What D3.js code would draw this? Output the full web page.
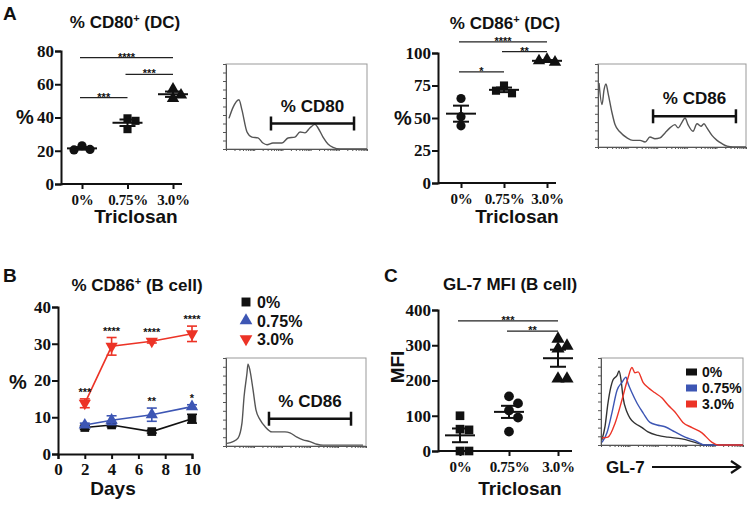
<!DOCTYPE html>
<html>
<head>
<meta charset="utf-8">
<script src="https://cdn.jsdelivr.net/npm/d3@7"></script>
<style>
  body { margin: 0; background: #fff; }
  text { font-family: "Liberation Sans", Arial, sans-serif; font-weight: bold; fill: #111; }
</style>
</head>
<body>
<script>
// ---- data ----
const treat = ["0%", "0.75%", "3.0%"];

// A: % CD80+ and % CD86+ of DC
const cd80Dc = [[23, 20.8, 20.5], [39.5, 38, 33], [57, 53.5, 51.5]];
const cd86Dc = [[65, 51, 44], [75, 69, 71], [95, 93, 94]];
// C: GL-7 MFI of B cells
const gl7Mfi = [[100, 62, 60, 0, 0], [155, 135, 115, 95, 55], [318, 298, 290, 205, 205]];

// significance bars: [from group, to group, height (data units), stars]
const sigCd80 = [[0, 2, 76, "****"], [1, 2, 66, "***"], [0, 1, 52, "***"]];
const sigCd86 = [[0, 2, 108.5, "****"], [1, 2, 101, "**"], [0, 1, 85.5, "*"]];
const sigGl7 = [[0, 2, 369, "***"], [1, 2, 340, "**"]];

// B: % CD86+ of B cells over time
const days = [2, 4, 7, 10];
const bMean = [[7.2, 7.9, 6.1, 9.6], [7.9, 9.2, 10.7, 12.9], [13.8, 29.3, 30.7, 32.7]];
const bSem = [[0.5, 0.5, 0.4, 1.2], [0.5, 1.2, 1.8, 0.5], [1.2, 2.4, 0.5, 2.1]];
const bStars = [["", "", "", ""], ["", "", "**", "*"], ["***", "****", "****", "****"]];

// flow histograms: channel (0-1000) and count (% of max)
const histCd80Ch = [21, 50, 92, 113, 149, 184, 227, 262, 291, 333, 397, 440, 489, 525, 560, 596, 631, 652, 688, 723, 759, 809, 1000];
const histCd80N = [36, 49, 58, 46, 20, 14, 13, 7, 5, 7, 7, 13, 14, 20, 19, 25, 29, 25, 14, 6, 2, 0, 0];
const histCd86Ch = [7, 27, 41, 54, 68, 95, 115, 149, 196, 236, 284, 318, 351, 385, 419, 453, 486, 520, 541, 568, 588, 608, 642, 669, 696, 716, 736, 770, 804, 838, 872, 912, 1000];
const histCd86N = [77, 51, 69, 76, 65, 41, 27, 18, 11, 8, 8, 6, 12, 10, 11, 17, 23, 27, 23, 30, 35, 27, 19, 28, 25, 28, 23, 14, 8, 4, 1, 0, 0];
const histBCh = [7, 50, 86, 114, 129, 150, 157, 171, 193, 214, 243, 279, 329, 386, 421, 457, 507, 550, 600, 650, 693, 979];
const histBN = [3, 5, 9, 26, 56, 83, 93, 86, 64, 41, 30, 22, 16, 16, 16, 15, 10, 7, 5, 2, 1, 1];
const gl7Ch0 = [7, 28, 49, 70, 85, 113, 127, 141, 155, 183, 204, 239, 289, 331, 401, 472, 570, 662, 732, 1000];
const gl7N0 = [6, 21, 48, 67, 75, 80, 85, 75, 55, 38, 31, 25, 20, 15, 11, 9, 7, 3, 0, 0];
const gl7Ch075 = [7, 42, 77, 113, 148, 176, 190, 218, 254, 296, 345, 394, 451, 521, 592, 662, 732, 1000];
const gl7N075 = [3, 14, 37, 63, 72, 78, 71, 60, 48, 37, 26, 23, 21, 15, 9, 5, 0, 0];
const gl7Ch3 = [7, 49, 99, 148, 190, 218, 239, 261, 296, 331, 380, 430, 472, 521, 577, 641, 711, 782, 824, 1000];
const gl7N3 = [8, 9, 25, 52, 77, 89, 83, 84, 72, 66, 60, 54, 46, 38, 26, 20, 14, 3, 0, 0];

const colors = ["#111111", "#3d56b4", "#ec3326"];
const shapes = [d3.symbolSquare, d3.symbolTriangle, d3.symbolTriangle];
const serif = "'Liberation Serif', 'Times New Roman', serif";

const svg = d3.select("body").append("svg")
  .attr("width", 752).attr("height", 505);

function panelLetter(s, x, y) {
  svg.append("text").attr("x", x).attr("y", y).style("font-size", "19px").text(s);
}

function title(main, sup, rest, cx, y) {
  const t = svg.append("text").attr("x", cx).attr("y", y)
    .attr("text-anchor", "middle").style("font-size", "17px");
  t.append("tspan").text(main);
  if (sup) t.append("tspan").attr("dy", -6).style("font-size", "11px").text(sup);
  t.append("tspan").attr("dy", sup ? 6 : 0).text(rest);
}

function styleAxis(g, size) {
  g.selectAll("path.domain").attr("stroke", "#111").attr("stroke-width", 2);
  g.selectAll(".tick line").attr("stroke", "#111").attr("stroke-width", 2);
  g.selectAll(".tick text").style("font-size", size + "px")
    .attr("fill", "#222").style("font-family", serif);
}

// dot plot with mean +/- SEM
function dotPanel(o) {
  const g = svg.append("g");
  const y = d3.scaleLinear().domain([0, o.ymax]).range(o.yRange);
  const x = d3.scalePoint().domain(treat).range(o.catRange);

  const ya = g.append("g").attr("transform", `translate(${o.ax},0)`)
    .call(d3.axisLeft(y).tickValues(o.ticks).tickSize(6).tickPadding(1));
  styleAxis(ya, 17);

  const xa = g.append("g").attr("transform", `translate(0,${o.yRange[0]})`)
    .call(d3.axisBottom(x).tickSize(5).tickPadding(5));
  styleAxis(xa, 15);
  xa.selectAll(".tick text").style("letter-spacing", "-0.3px");
  xa.select("path.domain").remove();
  xa.append("line").attr("x1", o.ax).attr("x2", o.xEnd)
    .attr("stroke", "#111").attr("stroke-width", 2);

  // points, dodged sideways so that they do not overlap
  const sz = o.markSize;
  o.data.forEach((vals, gi) => {
    const cx = x(treat[gi]);
    const placed = [];
    vals.forEach(v => {
      const py = y(v);
      const cand = [0, sz, -sz, 2 * sz, -2 * sz, 3 * sz];
      let dx = 0;
      for (const c of cand) {
        if (placed.every(p => Math.hypot(p[0] - c, p[1] - py) >= sz)) { dx = c; break; }
      }
      placed.push([dx, py]);
      g.append("path")
        .attr("d", d3.symbol().type(o.shapes[gi]).size(o.symArea)())
        .attr("transform", `translate(${cx + dx},${py})`)
        .attr("fill", "#111");
    });
    const m = d3.mean(vals);
    const se = d3.deviation(vals) / Math.sqrt(vals.length);
    const lw = 2;
    g.append("line").attr("x1", cx - 15).attr("x2", cx + 15)
      .attr("y1", y(m)).attr("y2", y(m)).attr("stroke", "#111").attr("stroke-width", lw);
    g.append("line").attr("x1", cx).attr("x2", cx)
      .attr("y1", y(m - se)).attr("y2", y(m + se)).attr("stroke", "#111").attr("stroke-width", lw);
    [m - se, m + se].forEach(v => g.append("line")
      .attr("x1", cx - 8).attr("x2", cx + 8).attr("y1", y(v)).attr("y2", y(v))
      .attr("stroke", "#111").attr("stroke-width", lw));
  });

  o.sig.forEach(s => {
    const x1 = x(treat[s[0]]) - 2, x2 = x(treat[s[1]]);
    g.append("line").attr("x1", x1).attr("x2", x2).attr("y1", y(s[2])).attr("y2", y(s[2]))
      .attr("stroke", "#222").attr("stroke-width", 1.3);
    g.append("text").attr("x", (x1 + x2) / 2).attr("y", y(s[2]) + 3)
      .attr("text-anchor", "middle").style("font-size", "11px").text(s[3]);
  });

  // axis titles
  if (o.ylab === "MFI") {
    g.append("text").attr("transform", `translate(${o.ylabX},${o.ylabY}) rotate(-90)`)
      .attr("text-anchor", "middle").style("font-size", "19px").text("MFI");
  } else {
    g.append("text").attr("x", o.ylabX).attr("y", o.ylabY)
      .attr("text-anchor", "middle").style("font-size", "20px").text(o.ylab);
  }
  g.append("text").attr("x", o.xlabX).attr("y", o.xlabY)
    .attr("text-anchor", "middle").style("font-size", "19px").text("Triclosan");
}

// flow cytometry histogram
function histPanel(o) {
  const g = svg.append("g");
  const x = d3.scaleLinear().domain([0, 1000]).range([o.x0, o.x1]);
  const y = d3.scaleLinear().domain([0, 100]).range([o.y1, o.y0]);
  const xl = d3.scaleLog().domain([1, 1e5]).range([o.x0, o.x1]);

  g.append("rect").attr("x", o.x0).attr("y", o.y0)
    .attr("width", o.x1 - o.x0).attr("height", o.y1 - o.y0)
    .attr("fill", "none").attr("stroke", "#999").attr("stroke-width", 1);
  const la = g.append("g").attr("transform", `translate(${o.x0},0)`)
    .call(d3.axisLeft(y).ticks(10).tickSize(3).tickFormat(""));
  la.selectAll("path,line").attr("stroke", "#555").attr("stroke-width", 1);
  const ba = g.append("g").attr("transform", `translate(0,${o.y1})`)
    .call(d3.axisBottom(xl).tickSize(2).tickFormat(""));
  ba.selectAll("path,line").attr("stroke", "#555").attr("stroke-width", 1);

  const line = d3.line().x(d => x(d[0])).y(d => y(d[1])).curve(d3.curveMonotoneX);
  o.curves.forEach(c => {
    g.append("path").datum(d3.zip(c.ch, c.n))
      .attr("d", line).attr("fill", "none")
      .attr("stroke", c.color).attr("stroke-width", 1.4);
  });

  if (o.gate) {
    const [gx1, gx2, gy] = o.gate;
    g.append("line").attr("x1", x(gx1)).attr("x2", x(gx2)).attr("y1", y(gy)).attr("y2", y(gy))
      .attr("stroke", "#111").attr("stroke-width", 2.5);
    [gx1, gx2].forEach(v => g.append("line").attr("x1", x(v)).attr("x2", x(v))
      .attr("y1", y(gy) - 7).attr("y2", y(gy) + 7).attr("stroke", "#111").attr("stroke-width", 2.5));
    g.append("text").attr("x", (x(gx1) + x(gx2)) / 2).attr("y", y(gy) - 12)
      .attr("text-anchor", "middle").style("font-size", "17px").text(o.gateLabel);
  }
  return { g, x, y };
}

// ---- Panel A ----
panelLetter("A", 3, 20);
title("% CD80", "+", " (DC)", 125, 28);
dotPanel({
  ax: 61, ymax: 80, yRange: [184, 51], ticks: [0, 20, 40, 60, 80],
  catRange: [82, 173], xEnd: 182, data: cd80Dc,
  shapes: [d3.symbolCircle, d3.symbolSquare, d3.symbolTriangle],
  markSize: 8, symArea: 66, sig: sigCd80,
  ylab: "%", ylabX: 25, ylabY: 124, xlabX: 136, xlabY: 223
});
histPanel({
  x0: 226, x1: 367, y0: 64, y1: 149,
  curves: [{ ch: histCd80Ch, n: histCd80N, color: "#555" }],
  gate: [319, 908, 30], gateLabel: "% CD80"
});

title("% CD86", "+", " (DC)", 505, 29);
dotPanel({
  ax: 438, ymax: 100, yRange: [183, 53], ticks: [0, 25, 50, 75, 100],
  catRange: [461, 547], xEnd: 556, data: cd86Dc,
  shapes: [d3.symbolCircle, d3.symbolSquare, d3.symbolTriangle],
  markSize: 8, symArea: 66, sig: sigCd86,
  ylab: "%", ylabX: 403, ylabY: 125, xlabX: 517, xlabY: 223
});
histPanel({
  x0: 598, x1: 746, y0: 64, y1: 147,
  curves: [{ ch: histCd86Ch, n: histCd86N, color: "#555" }],
  gate: [372, 932, 37], gateLabel: "% CD86"
});

// ---- Panel B ----
panelLetter("B", 3, 282);
title("% CD86", "+", " (B cell)", 137, 291);
(function () {
  const g = svg.append("g");
  const x = d3.scaleLinear().domain([0, 10]).range([58, 192]);
  const y = d3.scaleLinear().domain([0, 40]).range([454, 307]);
  const ya = g.append("g").attr("transform", "translate(58,0)")
    .call(d3.axisLeft(y).tickValues([0, 10, 20, 30, 40]).tickSize(6).tickPadding(1));
  styleAxis(ya, 17);
  const xa = g.append("g").attr("transform", "translate(0,454)")
    .call(d3.axisBottom(x).tickValues([0, 2, 4, 6, 8, 10]).tickSize(5).tickPadding(4));
  styleAxis(xa, 17);

  const line = d3.line().x(d => x(d[0])).y(d => y(d[1]));
  bMean.forEach((ser, si) => {
    const pts = d3.zip(days, ser, bSem[si]);
    g.append("path").datum(pts).attr("d", line).attr("fill", "none")
      .attr("stroke", colors[si]).attr("stroke-width", 1.6);
    pts.forEach(([d, m, se]) => {
      const cx = x(d);
      g.append("line").attr("x1", cx).attr("x2", cx).attr("y1", y(m - se)).attr("y2", y(m + se))
        .attr("stroke", colors[si]).attr("stroke-width", 1.6);
      [m - se, m + se].forEach(v => g.append("line").attr("x1", cx - 5).attr("x2", cx + 5)
        .attr("y1", y(v)).attr("y2", y(v)).attr("stroke", colors[si]).attr("stroke-width", 1.6));
      g.append("path").attr("d", d3.symbol().type(shapes[si]).size(si === 0 ? 75 : 65)())
        .attr("transform", `translate(${cx},${y(m)})` + (si === 2 ? " rotate(180)" : ""))
        .attr("fill", colors[si]);
    });
    bStars[si].forEach((s, i) => {
      if (!s) return;
      g.append("text").attr("x", x(days[i])).attr("y", y(ser[i] + bSem[si][i]) - 3)
        .attr("text-anchor", "middle").style("font-size", "11px").text(s);
    });
  });

  g.append("text").attr("x", 18).attr("y", 389).attr("text-anchor", "middle")
    .style("font-size", "20px").text("%");
  g.append("text").attr("x", 113).attr("y", 495).attr("text-anchor", "middle")
    .style("font-size", "19px").text("Days");

  // legend
  treat.forEach((t, i) => {
    const ly = 302 + i * 18.5;
    g.append("path").attr("d", d3.symbol().type(shapes[i]).size(i === 0 ? 80 : 70)())
      .attr("transform", `translate(246,${ly})` + (i === 2 ? " rotate(180)" : ""))
      .attr("fill", colors[i]);
    g.append("text").attr("x", 257).attr("y", ly + 6).style("font-size", "16px").text(t);
  });
})();
histPanel({
  x0: 226, x1: 366, y0: 358, y1: 446,
  curves: [{ ch: histBCh, n: histBN, color: "#555" }],
  gate: [307, 893, 31], gateLabel: "% CD86"
});

// ---- Panel C ----
panelLetter("C", 384, 282);
title("GL-7 MFI (B cell)", "", "", 510, 290);
dotPanel({
  ax: 438, ymax: 400, yRange: [451, 310], ticks: [0, 100, 200, 300, 400],
  catRange: [460, 558], xEnd: 572, data: gl7Mfi,
  shapes: [d3.symbolSquare, d3.symbolCircle, d3.symbolTriangle],
  markSize: 9, symArea: 75, sig: sigGl7,
  ylab: "MFI", ylabX: 404, ylabY: 367, xlabX: 520, xlabY: 495
});
(function () {
  const h = histPanel({
    x0: 601, x1: 743, y0: 358, y1: 445,
    curves: [
      { ch: gl7Ch0, n: gl7N0, color: "#333" },
      { ch: gl7Ch075, n: gl7N075, color: colors[1] },
      { ch: gl7Ch3, n: gl7N3, color: colors[2] }
    ]
  });
  treat.forEach((t, i) => {
    const ly = 372 + i * 16;
    h.g.append("rect").attr("x", 686).attr("y", ly - 3.5).attr("width", 11).attr("height", 7)
      .attr("fill", i === 0 ? "#111" : colors[i]);
    h.g.append("text").attr("x", 702).attr("y", ly + 5).style("font-size", "14px").text(t);
  });
  h.g.append("text").attr("x", 606).attr("y", 473).style("font-size", "17px").text("GL-7");
  h.g.append("line").attr("x1", 652).attr("x2", 739).attr("y1", 467).attr("y2", 467)
    .attr("stroke", "#111").attr("stroke-width", 2);
  h.g.append("path").attr("d", "M731,461 L740,467 L731,473").attr("fill", "none")
    .attr("stroke", "#111").attr("stroke-width", 2.2);
})();
</script>
</body>
</html>
